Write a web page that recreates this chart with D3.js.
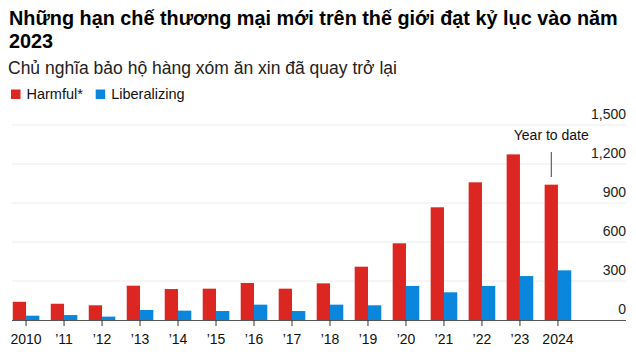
<!DOCTYPE html>
<html>
<head>
<meta charset="utf-8">
<script src="https://cdn.jsdelivr.net/npm/d3@7"></script>
<style>
body { margin: 0; background: #fff; }
text { font-family: "Liberation Sans", Arial, sans-serif; }
</style>
</head>
<body>
<script>
var years = ["2010","’11","’12","’13","’14","’15","’16","’17","’18","’19","’20","’21","’22","’23","2024"];
var harmful = [140, 125, 113, 264, 238, 241, 285, 241, 282, 410, 590, 867, 1059, 1274, 1041];
var liberalizing = [33, 38, 26, 77, 72, 69, 118, 69, 118, 113, 262, 213, 262, 338, 382];
var yTicks = [0, 300, 600, 900, 1200, 1500];
var seriesNames = ["Harmful*", "Liberalizing"];
var colors = ["#dc2622", "#0a87dc"];

var w = 636;
var h = 352;

var svg = d3.select("body")
	.append("svg")
	.attr("width", w)
	.attr("height", h);

// titles
var titleSize = 21;
var title1 = svg.append("text")
	.attr("x", 9)
	.attr("y", 25)
	.attr("font-size", titleSize)
	.attr("font-weight", "bold")
	.attr("fill", "#000")
	.text("Những hạn chế thương mại mới trên thế giới đạt kỷ lục vào năm");
// shrink to fit the same width as the reference (ends ~x 618)
var tl = title1.node().getComputedTextLength();
if (tl > 609) {
	titleSize = titleSize * 609 / tl;
	title1.attr("font-size", titleSize);
}

svg.append("text")
	.attr("x", 9)
	.attr("y", 48)
	.attr("font-size", titleSize)
	.attr("font-weight", "bold")
	.attr("fill", "#000")
	.text("2023");

var sub = svg.append("text")
	.attr("x", 8)
	.attr("y", 74)
	.attr("font-size", 17.5)
	.attr("fill", "#222")
	.text("Chủ nghĩa bảo hộ hàng xóm ăn xin đã quay trở lại");
var sl = sub.node().getComputedTextLength();
if (sl > 390) sub.attr("font-size", 17.5 * 390 / sl);

// legend
var legendX = [11, 95.7];
seriesNames.forEach(function(name, i){
	svg.append("rect")
		.attr("x", legendX[i])
		.attr("y", 89.5)
		.attr("width", 9.5)
		.attr("height", 9.5)
		.attr("fill", colors[i]);
	svg.append("text")
		.attr("x", legendX[i] + 15.5)
		.attr("y", 99)
		.attr("font-size", 14.5)
		.attr("fill", "#111")
		.text(name);
});

var xScale = d3.scaleBand()
	.domain(years)
	.range([12, 572])
	.paddingInner(0.3)
	.paddingOuter(0.02);

var yScale = d3.scaleLinear()
	.domain([0, 1500])
	.range([320, 125]);

// grid
svg.append("g")
	.selectAll("line")
	.data(yTicks.filter(function(d){ return d > 0; }))
	.enter()
	.append("line")
	.attr("x1", 12)
	.attr("x2", 626)
	.attr("y1", function(d){ return yScale(d); })
	.attr("y2", function(d){ return yScale(d); })
	.attr("stroke", "#ececec")
	.attr("stroke-width", 1);

var yAxis = d3.axisRight(yScale)
	.tickValues(yTicks)
	.tickFormat(d3.format(","))
	.tickSize(0);

svg.append("g")
	.attr("class", "yaxis")
	.attr("transform", "translate(626,-11)")
	.call(yAxis)
	.call(function(g){ g.select(".domain").remove(); })
	.selectAll("text")
	.attr("x", 0)
	.attr("text-anchor", "end")
	.attr("font-size", 14)
	.attr("font-family", "Liberation Sans, Arial, sans-serif")
	.attr("fill", "#222");

var bw = xScale.bandwidth() / 2;

svg.append("g")
	.selectAll("rect")
	.data(harmful)
	.enter()
	.append("rect")
	.attr("x", function(d, i){ return xScale(years[i]); })
	.attr("y", function(d){ return yScale(d); })
	.attr("width", bw)
	.attr("height", function(d){ return yScale(0) - yScale(d); })
	.attr("fill", colors[0]);

svg.append("g")
	.selectAll("rect")
	.data(liberalizing)
	.enter()
	.append("rect")
	.attr("x", function(d, i){ return xScale(years[i]) + bw; })
	.attr("y", function(d){ return yScale(d); })
	.attr("width", bw)
	.attr("height", function(d){ return yScale(0) - yScale(d); })
	.attr("fill", colors[1]);

// baseline + x axis
svg.append("line")
	.attr("x1", 12)
	.attr("x2", 626)
	.attr("y1", 320.5)
	.attr("y2", 320.5)
	.attr("stroke", "#555")
	.attr("stroke-width", 1);

var xAxis = d3.axisBottom(xScale)
	.tickSize(6)
	.tickPadding(8);

svg.append("g")
	.attr("class", "xaxis")
	.attr("transform", "translate(0,320)")
	.call(xAxis)
	.call(function(g){ g.select(".domain").remove(); })
	.call(function(g){ g.selectAll(".tick line").attr("stroke", "#333"); })
	.selectAll("text")
	.attr("font-size", 14)
	.attr("font-family", "Liberation Sans, Arial, sans-serif")
	.attr("fill", "#111");

// annotation
var lastX = xScale("2024") + bw / 2;
svg.append("line")
	.attr("x1", lastX)
	.attr("x2", lastX)
	.attr("y1", 152)
	.attr("y2", 177)
	.attr("stroke", "#444")
	.attr("stroke-width", 1);
svg.append("text")
	.attr("x", lastX)
	.attr("y", 140)
	.attr("text-anchor", "middle")
	.attr("font-size", 14)
	.attr("fill", "#111")
	.text("Year to date");
</script>
</body>
</html>
